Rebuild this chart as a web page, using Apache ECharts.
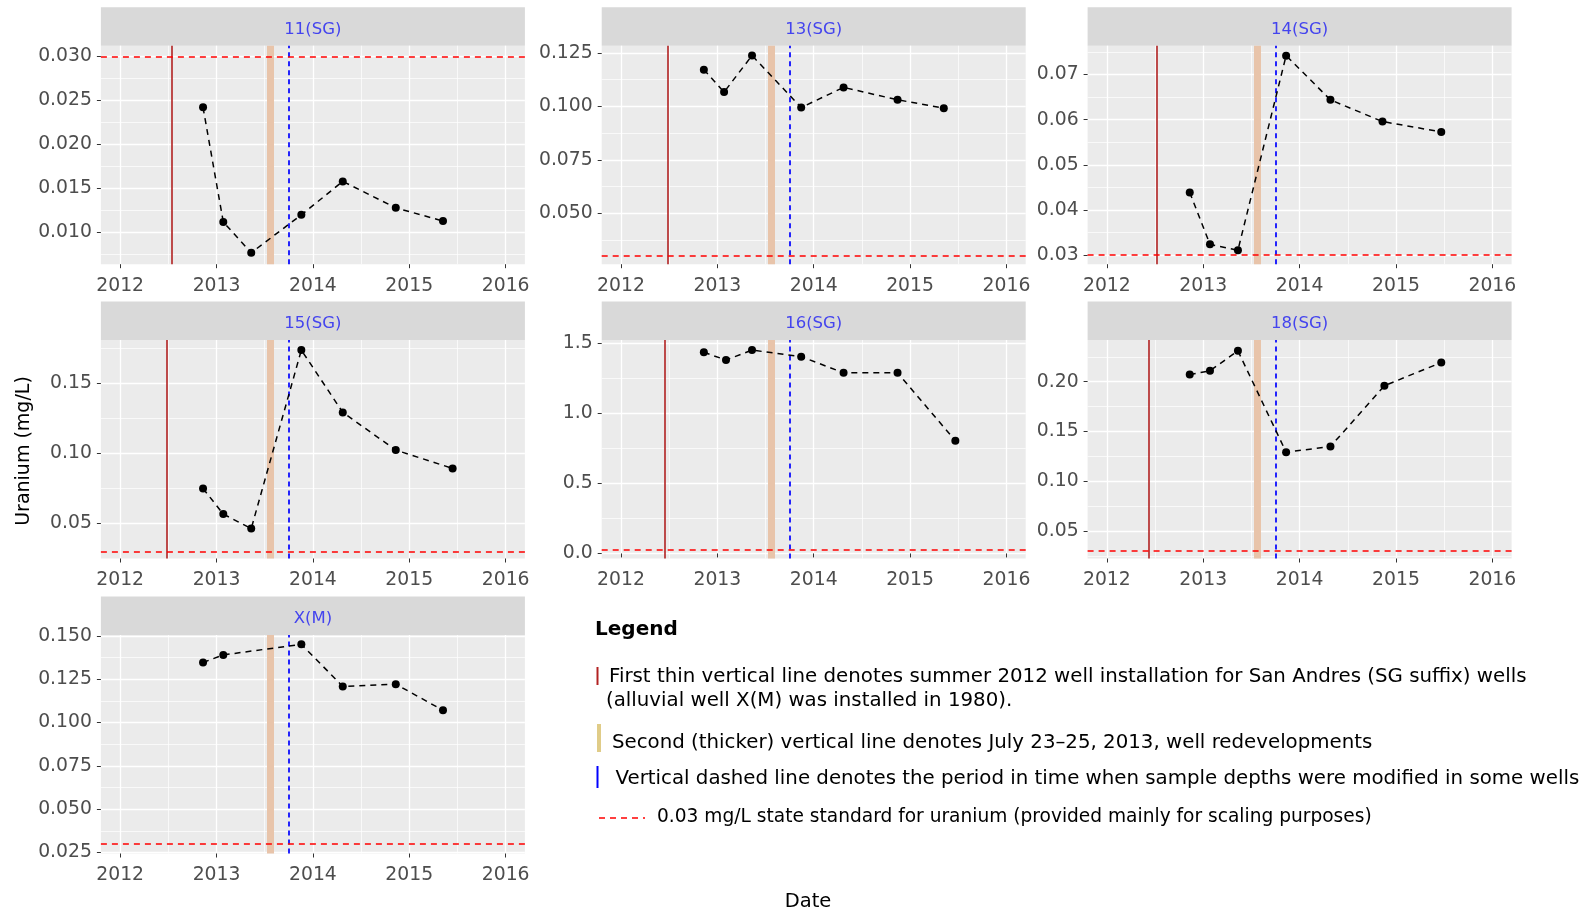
<!DOCTYPE html>
<html>
<head>
<meta charset="utf-8">
<title>Uranium by well</title>
<script src="https://cdn.jsdelivr.net/npm/echarts@6/dist/echarts.min.js"></script>
<style>
  html, body { margin: 0; padding: 0; background: #fff; }
  #chart { width: 1591px; height: 915px; }
</style>
</head>
<body>
<div id="chart"></div>
<script>
// facet order
const wells = ['11(SG)', '13(SG)', '14(SG)', '15(SG)', '16(SG)', '18(SG)', 'X(M)'];

// sample dates (decimal years) and uranium (mg/L)
const dates11 = [2012.86, 2013.07, 2013.36, 2013.88, 2014.31, 2014.86, 2015.35];
const uranium11 = [0.0242, 0.0112, 0.0077, 0.0120, 0.0158, 0.0128, 0.0113];
const dates13 = [2012.86, 2013.07, 2013.36, 2013.87, 2014.31, 2014.87, 2015.35];
const uranium13 = [0.1172, 0.1067, 0.1238, 0.0995, 0.1089, 0.1031, 0.0992];
const dates14 = [2012.86, 2013.07, 2013.36, 2013.86, 2014.32, 2014.86, 2015.47];
const uranium14 = [0.0439, 0.0324, 0.0311, 0.0742, 0.0644, 0.0596, 0.0573];
const dates15 = [2012.86, 2013.07, 2013.36, 2013.88, 2014.31, 2014.86, 2015.45];
const uranium15 = [0.0750, 0.0567, 0.0464, 0.1738, 0.1293, 0.1024, 0.0893];
const dates16 = [2012.86, 2013.09, 2013.36, 2013.87, 2014.31, 2014.87, 2015.47];
const uranium16 = [1.436, 1.381, 1.452, 1.405, 1.290, 1.290, 0.805];
const dates18 = [2012.86, 2013.07, 2013.36, 2013.86, 2014.32, 2014.88, 2015.47];
const uranium18 = [0.2073, 0.2110, 0.2310, 0.1293, 0.1350, 0.1960, 0.2193];
const datesX = [2012.86, 2013.07, 2013.88, 2014.31, 2014.86, 2015.35];
const uraniumX = [0.1347, 0.1391, 0.1452, 0.1209, 0.1222, 0.1071];

// event dates
const installDates = [2012.54, 2012.49, 2012.52, 2012.48, 2012.45, 2012.43, null];
const redevelopDate = 2013.56;
const depthChangeDate = 2013.75;
const stateStandard = 0.03;

// axes
const yearTicks = [2012, 2013, 2014, 2015, 2016];
const yearRange = [2011.8, 2016.2];
const yTicks11 = [0.010, 0.015, 0.020, 0.025, 0.030];
const yTicks13 = [0.050, 0.075, 0.100, 0.125];
const yTicks14 = [0.03, 0.04, 0.05, 0.06, 0.07];
const yTicks15 = [0.05, 0.10, 0.15];
const yTicks16 = [0.0, 0.5, 1.0, 1.5];
const yTicks18 = [0.05, 0.10, 0.15, 0.20];
const yTicksX = [0.025, 0.050, 0.075, 0.100, 0.125, 0.150];
const yRange11 = [0.0064, 0.0312];
const yRange13 = [0.0262, 0.1284];
const yRange14 = [0.0280, 0.0764];
const yRange15 = [0.0250, 0.1810];
const yRange16 = [-0.036, 1.524];
const yRange18 = [0.0226, 0.2419];
const yRangeX = [0.0244, 0.1506];
const yDecimals = [3, 3, 2, 2, 1, 2, 3];

const panels = [
  { dates: dates11, values: uranium11, ticks: yTicks11, range: yRange11 },
  { dates: dates13, values: uranium13, ticks: yTicks13, range: yRange13 },
  { dates: dates14, values: uranium14, ticks: yTicks14, range: yRange14 },
  { dates: dates15, values: uranium15, ticks: yTicks15, range: yRange15 },
  { dates: dates16, values: uranium16, ticks: yTicks16, range: yRange16 },
  { dates: dates18, values: uranium18, ticks: yTicks18, range: yRange18 },
  { dates: datesX, values: uraniumX, ticks: yTicksX, range: yRangeX },
];

// panel boxes [left, top] in px
const boxes = [
  [100.9, 45.7], [601.7, 45.7], [1087.6, 45.7],
  [100.9, 340], [601.7, 340], [1087.6, 340],
  [100.9, 635],
];
const panelW = 424;
const panelH = 218.5;
const stripH = 38.4;

const FONT = '"DejaVu Sans", sans-serif';
const tickColor = '#4d4d4d';

// minor grid = halfway between major breaks
function minorOf(ticks, range) {
  const step = ticks[1] - ticks[0];
  const out = [];
  for (let v = ticks[0] - step / 2; v <= ticks[ticks.length - 1] + step / 2 + 1e-9; v += step) {
    if (v > range[0] && v < range[1]) out.push(+v.toFixed(6));
  }
  return out;
}

const grid = [];
const xAxis = [];
const yAxis = [];
const series = [];
const graphic = [];

panels.forEach((p, i) => {
  const [left, top] = boxes[i];
  grid.push({
    left, top, width: panelW, height: panelH,
    show: true, backgroundColor: '#ebebeb', borderWidth: 0,
    containLabel: false, outerBoundsMode: 'none',
  });

  // major x
  xAxis.push({
    type: 'value', gridIndex: i, min: yearRange[0], max: yearRange[1],
    axisLine: { show: false },
    axisTick: { show: true, length: 4, customValues: yearTicks, lineStyle: { color: '#333', width: 1 } },
    axisLabel: { customValues: yearTicks, color: tickColor, fontSize: 18.8, fontFamily: FONT, margin: 12,
      formatter: (v) => String(Math.round(v)) },
    splitLine: { show: true, lineStyle: { color: '#fff', width: 1.3 } },
  });
  // minor x
  xAxis.push({
    type: 'value', gridIndex: i, min: yearRange[0], max: yearRange[1], position: 'bottom',
    axisLine: { show: false },
    axisTick: { show: false, customValues: minorOf(yearTicks, yearRange) },
    axisLabel: { show: false, customValues: minorOf(yearTicks, yearRange) },
    splitLine: { show: true, lineStyle: { color: '#fff', width: 0.7 } },
  });
  // major y
  yAxis.push({
    type: 'value', gridIndex: i, min: p.range[0], max: p.range[1],
    axisLine: { show: false },
    axisTick: { show: true, length: 4, customValues: p.ticks, lineStyle: { color: '#333', width: 1 } },
    axisLabel: { customValues: p.ticks, color: tickColor, fontSize: 18.8, fontFamily: FONT, margin: 9,
      formatter: (v) => v.toFixed(yDecimals[i]) },
    splitLine: { show: true, lineStyle: { color: '#fff', width: 1.3 } },
  });
  // minor y
  yAxis.push({
    type: 'value', gridIndex: i, min: p.range[0], max: p.range[1], position: 'left',
    axisLine: { show: false },
    axisTick: { show: false, customValues: minorOf(p.ticks, p.range) },
    axisLabel: { show: false, customValues: minorOf(p.ticks, p.range) },
    splitLine: { show: true, lineStyle: { color: '#fff', width: 0.7 } },
  });

  // reference lines
  const refs = [];
  if (installDates[i] != null) {
    refs.push({ xAxis: installDates[i], lineStyle: { color: '#b22222', width: 1.6, type: 'solid' } });
  }
  refs.push({ xAxis: redevelopDate, lineStyle: { color: '#e8c4aa', width: 7, type: 'solid' } });
  refs.push({ xAxis: depthChangeDate, lineStyle: { color: '#0000ff', width: 1.7, type: [5, 4] } });
  refs.push({ yAxis: stateStandard, lineStyle: { color: '#ff0000', width: 1.7, type: [6, 5] } });

  series.push({
    type: 'line', xAxisIndex: 2 * i, yAxisIndex: 2 * i, data: [], z: 1, silent: true,
    markLine: { silent: true, symbol: ['none', 'none'], label: { show: false }, z: 1, animation: false, data: refs },
  });

  series.push({
    name: wells[i], type: 'line', xAxisIndex: 2 * i, yAxisIndex: 2 * i, z: 3,
    data: p.dates.map((d, k) => [d, p.values[k]]),
    symbol: 'circle', symbolSize: 8, showSymbol: true,
    itemStyle: { color: '#000' },
    lineStyle: { color: '#000', width: 1.5, type: [6, 5] },
  });

  // facet strip
  graphic.push({
    type: 'rect', x: left, y: top - stripH, shape: { width: panelW, height: stripH },
    style: { fill: '#d9d9d9' }, silent: true,
  });
  graphic.push({
    type: 'text', x: left + panelW / 2, y: top - stripH / 2 + 3,
    style: { text: wells[i], fill: '#4444ee', font: '16.5px ' + FONT, align: 'center', verticalAlign: 'middle' },
  });
});

// axis titles
graphic.push({
  type: 'text', x: 24, y: 451, rotation: Math.PI / 2,
  style: { text: 'Uranium (mg/L)', fill: '#000', font: '19px ' + FONT, align: 'center', verticalAlign: 'middle' },
});
graphic.push({
  type: 'text', x: 808, y: 902,
  style: { text: 'Date', fill: '#000', font: '19.5px ' + FONT, align: 'center', verticalAlign: 'middle' },
});

// legend block
const legendFont = '19.8px ' + FONT;
graphic.push(
  { type: 'text', x: 595, y: 630, style: { text: 'Legend', fill: '#000', font: 'bold 20px ' + FONT, verticalAlign: 'middle' } },
  { type: 'rect', x: 596.5, y: 667, shape: { width: 2, height: 18 }, style: { fill: '#b22222' } },
  { type: 'text', x: 609, y: 677, style: { text: 'First thin vertical line denotes summer 2012 well installation for San Andres (SG suffix) wells', fill: '#000', font: legendFont, verticalAlign: 'middle' } },
  { type: 'text', x: 606, y: 701, style: { text: '(alluvial well X(M) was installed in 1980).', fill: '#000', font: legendFont, verticalAlign: 'middle' } },
  { type: 'rect', x: 597, y: 724, shape: { width: 4, height: 28 }, style: { fill: '#e0cc88' } },
  { type: 'text', x: 612, y: 743, style: { text: 'Second (thicker) vertical line denotes July 23\u201325, 2013, well redevelopments', fill: '#000', font: legendFont, verticalAlign: 'middle' } },
  { type: 'rect', x: 596.5, y: 766, shape: { width: 2, height: 22 }, style: { fill: '#0000ff' } },
  { type: 'text', x: 615.5, y: 779, style: { text: 'Vertical dashed line denotes the period in time when sample depths were modified in some wells', fill: '#000', font: legendFont, verticalAlign: 'middle' } },
  { type: 'line', shape: { x1: 599, y1: 818, x2: 645, y2: 818 }, style: { stroke: '#ff0000', lineWidth: 1.5, lineDash: [6, 5] } },
  { type: 'text', x: 657, y: 817, style: { text: '0.03 mg/L state standard for uranium (provided mainly for scaling purposes)', fill: '#000', font: '18.6px ' + FONT, verticalAlign: 'middle' } }
);

const chart = echarts.init(document.getElementById('chart'), null, { renderer: 'canvas' });
chart.setOption({
  animation: false,
  backgroundColor: '#fff',
  textStyle: { fontFamily: FONT },
  grid, xAxis, yAxis, series, graphic,
});
</script>
</body>
</html>
